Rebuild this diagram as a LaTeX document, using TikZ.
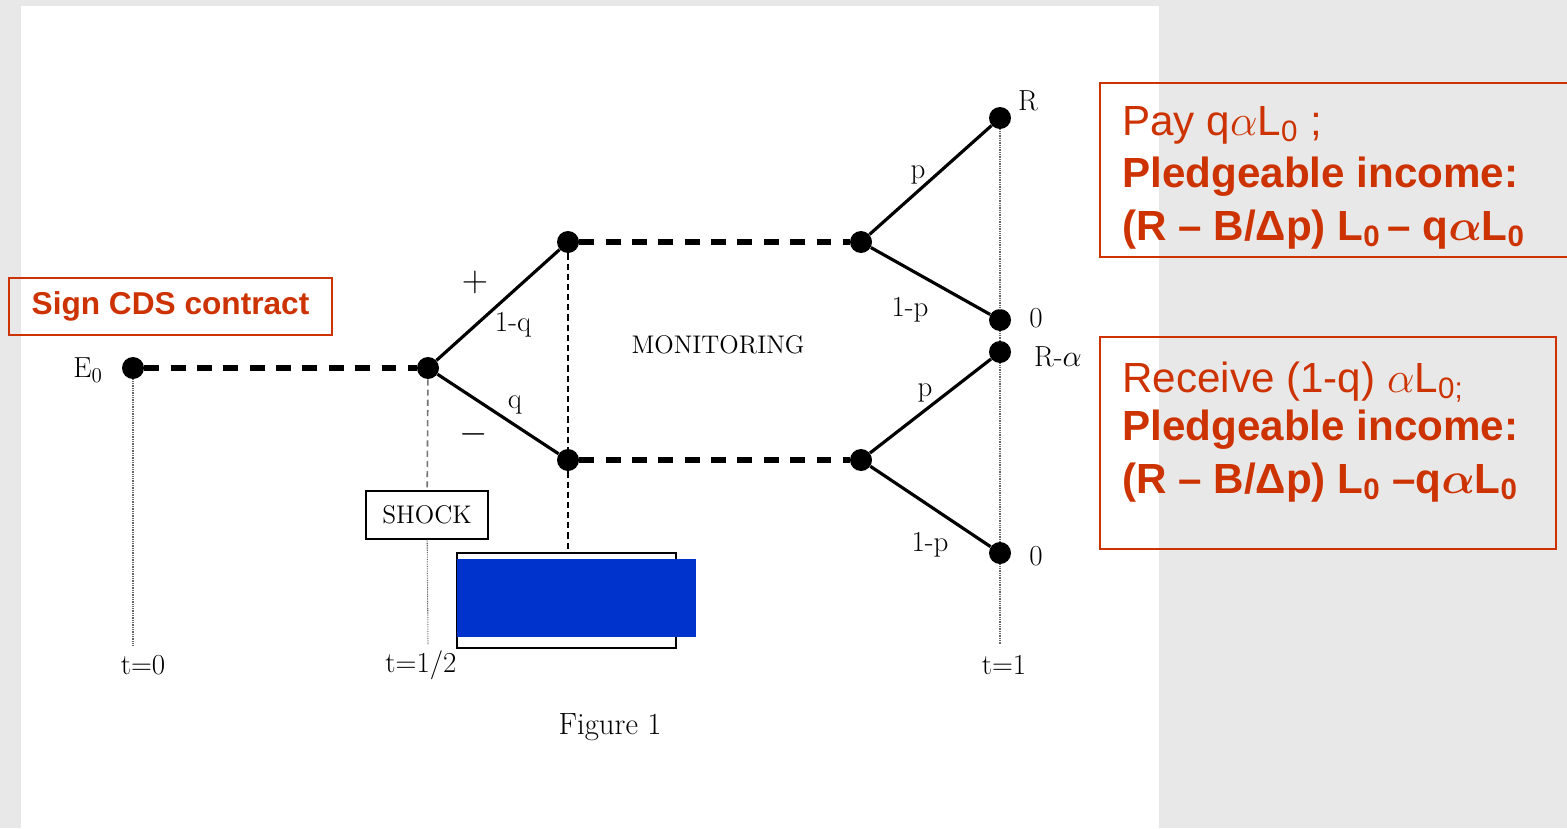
\documentclass[tikz,border=0pt]{standalone}
\usepackage{fontspec}
\newfontfamily\slidefont{Liberation Sans}
\definecolor{cdsred}{RGB}{204,51,0}
\definecolor{panelgray}{RGB}{232,232,232}
\definecolor{coverblue}{RGB}{0,51,204}

\begin{document}
\begin{tikzpicture}[x=.02cm,y=-.02cm,
    dot/.style={circle,fill,inner sep=0pt,minimum size=.44cm},
    thickdash/.style={line width=2.9pt,dash pattern=on 8.5pt off 6.5pt},
    branch/.style={line width=1.8pt},
    timeline/.style={black!60,line width=.6pt,dash pattern=on .5pt off .5pt},
    thindash/.style={line width=.9pt,dash pattern=on 3.5pt off 2.3pt},
    lab/.style={inner sep=0pt,font=\fontsize{16.5}{19}\selectfont},
    caps/.style={inner sep=0pt,font=\fontsize{14.5}{17}\selectfont},
    note/.style={draw=cdsred,line width=1.1pt},
    notetext/.style={text=cdsred,inner sep=0pt,anchor=base west,
      font=\slidefont\fontsize{24}{29}\selectfont},
    notebold/.style={notetext,font=\slidefont\bfseries\boldmath\fontsize{24}{29}\selectfont}]
  \clip (0,0) rectangle (1567,828);
  \fill[panelgray] (0,0) rectangle (1567,828);
  \fill[white] (21,6) rectangle (1159,828);

  % tree
  \node[dot] (e0) at (133,368) {};
  \node[dot] (sh) at (428,368) {};
  \node[dot] (up) at (568,242) {};
  \node[dot] (dn) at (568,460) {};
  \node[dot] (upm) at (861,242) {};
  \node[dot] (dnm) at (861,460) {};
  \node[dot] (r) at (1000,118) {};
  \node[dot] (z1) at (1000,320) {};
  \node[dot] (ra) at (1000,352) {};
  \node[dot] (z2) at (1000,553) {};
  \coordinate (t0) at (133,645);
  \coordinate (th) at (428,645);
  \coordinate (t1) at (1000,645);

  \node[draw,line width=.8pt,minimum width=2.44cm,minimum height=.96cm,caps] (shock) at (427,515) {SHOCK};
  \node[draw,line width=.8pt,minimum width=4.38cm,minimum height=1.9cm] (hidden) at (566.5,600.5) {};
  \fill[coverblue] (457,559) rectangle (696,637);

  \draw[thickdash] (e0) -- (sh);
  \draw[thickdash] (up) -- (upm);
  \draw[thickdash] (dn) -- (dnm);
  \draw[branch] (sh) -- (up);
  \draw[branch] (sh) -- (dn);
  \draw[branch] (upm) -- (r);
  \draw[branch] (upm) -- (z1);
  \draw[branch] (dnm) -- (ra);
  \draw[branch] (dnm) -- (z2);

  \draw[timeline] (e0) -- (t0);
  \draw[timeline] (r) -- (z1) (z1) -- (ra) (ra) -- (z2) (z2) -- (t1);
  \draw[thindash,black!55] (sh) -- (shock);
  \draw[timeline] (shock) -- (th);
  \draw[thindash] (up) -- (dn) -- (dn |- hidden.north);

  \node[lab] (e0l) at (88,370) {$\mathrm{E}_0$};
  \node[inner sep=0pt,font=\fontsize{20}{24}\selectfont] (plus) at (475,282) {$+$};
  \node[inner sep=0pt,font=\fontsize{20}{24}\selectfont] (minus) at (474,434) {$-$};
  \node[lab] (q1) at (513,325) {1-q};
  \node[lab] (q2) at (515,405) {q};
  \node[caps] (mon) at (718,345) {MONITORING};
  \node[lab] (p1) at (918,175) {p};
  \node[lab] (p2) at (910,310) {1-p};
  \node[lab] (p3) at (925,393) {p};
  \node[lab] (p4) at (930,545) {1-p};
  \node[lab] (rl) at (1028,101) {R};
  \node[lab] (z1l) at (1036,318) {0};
  \node[lab] (ral) at (1058,357) {R-$\alpha$};
  \node[lab] (z2l) at (1036,556) {0};
  \foreach \x/\txt/\nm in {143/t=0/a,421/{t=1/2}/b,1004/t=1/c}
    \node[lab] (time\nm) at (\x,665) {\txt};
  \node[inner sep=0pt,font=\fontsize{17.5}{21}\selectfont] (fig) at (610,727) {Figure 1};

  % slide notes
  \node[note,minimum width=6.46cm,minimum height=1.14cm,text=cdsred,
    font=\slidefont\bfseries\fontsize{18}{22}\selectfont] (cds) at (170.5,306.5) {Sign CDS contract};
  \draw[note] (1100,83) rectangle (1600,257);
  \draw[note] (1100,337) rectangle (1556,549);
  \node[notetext] (pay1) at (1122,135) {Pay q$\alpha$L\textsubscript{0} ;};
  \node[notebold] (pay2) at (1122,187) {Pledgeable income:};
  \node[notebold] (pay3) at (1122,240) {(R \textendash{} B/Δp) L\textsubscript{0}\,\textendash{} q$\alpha$L\textsubscript{0}};
  \node[notetext] (rec1) at (1122,392) {Receive (1-q) $\alpha$L\textsubscript{0;}};
  \node[notebold] (rec2) at (1122,440) {Pledgeable income:};
  \node[notebold] (rec3) at (1122,493) {(R \textendash{} B/Δp) L\textsubscript{0} \textendash q$\alpha$L\textsubscript{0}};
\end{tikzpicture}
\end{document}
